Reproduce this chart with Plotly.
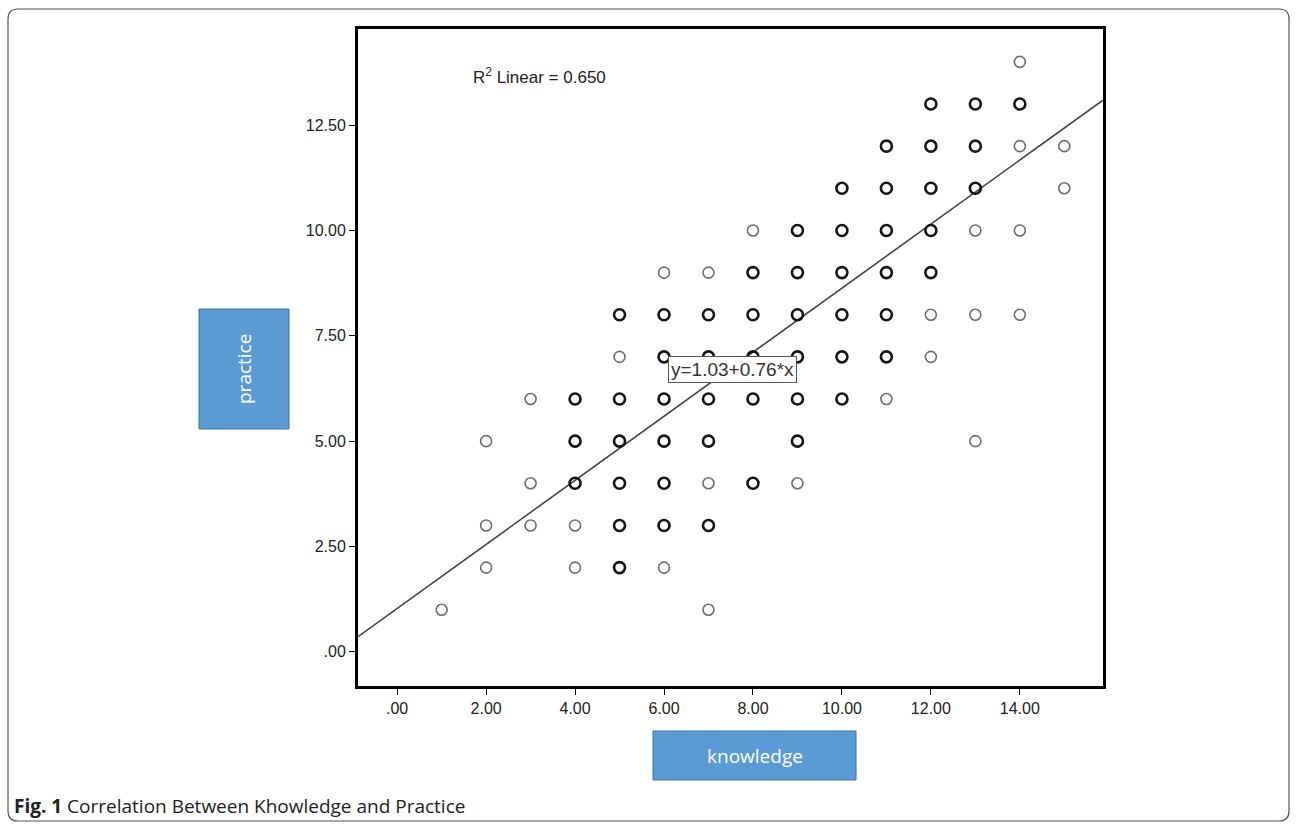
import plotly.graph_objects as go

# ---- data ----
knowledge = [1,
             2, 2, 2,
             3, 3, 3,
             4, 4, 4, 4, 4,
             5, 5, 5, 5, 5, 5, 5,
             6, 6, 6, 6, 6, 6, 6, 6,
             7, 7, 7, 7, 7, 7, 7, 7,
             8, 8, 8, 8, 8, 8,
             9, 9, 9, 9, 9, 9, 9,
             10, 10, 10, 10, 10, 10,
             11, 11, 11, 11, 11, 11, 11,
             12, 12, 12, 12, 12, 12, 12,
             13, 13, 13, 13, 13, 13,
             14, 14, 14, 14, 14,
             15, 15]
practice = [1,
            5, 3, 2,
            6, 4, 3,
            6, 5, 4, 3, 2,
            8, 7, 6, 5, 4, 3, 2,
            9, 8, 7, 6, 5, 4, 3, 2,
            9, 8, 7, 6, 5, 4, 3, 1,
            10, 9, 8, 7, 6, 4,
            10, 9, 8, 7, 6, 5, 4,
            11, 10, 9, 8, 7, 6,
            12, 11, 10, 9, 8, 7, 6,
            13, 12, 11, 10, 9, 8, 7,
            13, 12, 11, 10, 8, 5,
            14, 13, 12, 10, 8,
            12, 11]
# estimated number of respondents per plotted position (1 = single, 2 = overlapping)
frequency = [1,
             1, 1, 1,
             1, 1, 1,
             2, 2, 2, 1, 1,
             2, 1, 2, 2, 2, 2, 2,
             1, 2, 2, 2, 2, 2, 2, 1,
             1, 2, 2, 2, 2, 1, 2, 1,
             1, 2, 2, 2, 2, 2,
             2, 2, 2, 2, 2, 2, 1,
             2, 2, 2, 2, 2, 2,
             2, 2, 2, 2, 2, 2, 1,
             2, 2, 2, 2, 2, 1, 1,
             2, 2, 2, 1, 1, 1,
             1, 2, 1, 1, 1,
             1, 1]

fit_intercept = 1.03
fit_slope = 0.76
r2_text = "R<sup>2</sup> Linear = 0.650"
eq_text = "y=1.03+0.76*x"

x_ticks = [0, 2, 4, 6, 8, 10, 12, 14]
x_ticktext = [".00", "2.00", "4.00", "6.00", "8.00", "10.00", "12.00", "14.00"]
y_ticks = [0, 2.5, 5, 7.5, 10, 12.5]
y_ticktext = [".00", "2.50", "5.00", "7.50", "10.00", "12.50"]

x_label = "knowledge"
y_label = "practice"
caption_bold = "Fig. 1"
caption_text = " Correlation Between Khowledge and Practice"

# ---- figure ----
x_range = [-0.88, 15.87]
y_range = [-0.81, 14.78]

fig = go.Figure()

single_x = [x for x, f in zip(knowledge, frequency) if f == 1]
single_y = [y for y, f in zip(practice, frequency) if f == 1]
multi_x = [x for x, f in zip(knowledge, frequency) if f > 1]
multi_y = [y for y, f in zip(practice, frequency) if f > 1]

fig.add_trace(go.Scatter(
    x=[x_range[0], x_range[1]],
    y=[fit_intercept + fit_slope * x_range[0], fit_intercept + fit_slope * x_range[1]],
    mode="lines", line=dict(color="#444444", width=1.6), hoverinfo="skip"))

fig.add_trace(go.Scatter(
    x=single_x, y=single_y, mode="markers",
    marker=dict(symbol="circle-open", size=11, color="#6e6e6e", line=dict(width=1.6, color="#6e6e6e"))))
fig.add_trace(go.Scatter(
    x=multi_x, y=multi_y, mode="markers",
    marker=dict(symbol="circle-open", size=11, color="#151515", line=dict(width=2.6, color="#151515"))))

L, R, T, B = 358, 1103, 29, 686
W, H = 1296, 826
pw, ph = R - L, B - T


def px(xp):
    return (xp - L) / pw


def py(yp):
    return (B - yp) / ph


shapes = []
# outer rounded border
x0, x1, y0, y1 = px(8), px(1289), py(821), py(9)
rx, ry = 10 / pw, 10 / ph
path = (f"M {x0+rx},{y1} L {x1-rx},{y1} Q {x1},{y1} {x1},{y1-ry} "
        f"L {x1},{y0+ry} Q {x1},{y0} {x1-rx},{y0} L {x0+rx},{y0} "
        f"Q {x0},{y0} {x0},{y0+ry} L {x0},{y1-ry} Q {x0},{y1} {x0+rx},{y1} Z")
shapes.append(dict(type="path", xref="paper", yref="paper", path=path,
                   line=dict(color="#555555", width=1.2), layer="below"))
# blue label boxes
shapes.append(dict(type="rect", xref="paper", yref="paper",
                   x0=px(199), x1=px(289), y0=py(429), y1=py(309),
                   fillcolor="#5B9BD5", line=dict(color="#41719C", width=1)))
shapes.append(dict(type="rect", xref="paper", yref="paper",
                   x0=px(653), x1=px(856), y0=py(780), y1=py(731),
                   fillcolor="#5B9BD5", line=dict(color="#41719C", width=1)))

annotations = [
    dict(text=r2_text, x=1.66, y=13.66, xref="x", yref="y", xanchor="left", yanchor="middle",
         showarrow=False, font=dict(family="Liberation Sans, Arial", size=17, color="#222222")),
    dict(text=eq_text, x=7.55, y=6.71, xref="x", yref="y", xanchor="center", yanchor="middle",
         showarrow=False, font=dict(family="Liberation Sans, Arial", size=19, color="#333333"),
         bgcolor="white", bordercolor="#555555", borderwidth=1, borderpad=2),
    dict(text=y_label, x=px(244), y=py(369), xref="paper", yref="paper", textangle=-90,
         xanchor="center", yanchor="middle",
         showarrow=False, font=dict(family="Open Sans", size=19, color="white")),
    dict(text=x_label, x=px(754.5), y=py(756), xref="paper", yref="paper",
         xanchor="center", yanchor="middle",
         showarrow=False, font=dict(family="Open Sans", size=19, color="white")),
    dict(text=f"<b>{caption_bold}</b>{caption_text}", x=px(12), y=py(806), xref="paper", yref="paper",
         xanchor="left", yanchor="middle", showarrow=False,
         font=dict(family="Open Sans", size=19, color="#222222")),
]

axis_common = dict(showgrid=False, zeroline=False, showline=True, linecolor="black", linewidth=3,
                   mirror=True, ticks="outside", ticklen=6, tickwidth=1, tickcolor="black",
                   tickfont=dict(family="Liberation Sans, Arial", size=16, color="#222222"))

fig.update_layout(
    width=W, height=H,
    margin=dict(l=L, r=W - R, t=T, b=H - B),
    paper_bgcolor="white", plot_bgcolor="white",
    showlegend=False,
    xaxis=dict(range=x_range, tickvals=x_ticks, ticktext=x_ticktext, **axis_common),
    yaxis=dict(range=y_range, tickvals=y_ticks, ticktext=y_ticktext, **axis_common),
    shapes=shapes, annotations=annotations,
)

fig.write_html("out.html", config={"displayModeBar": False},
               post_script="document.body.style.margin='0px';document.body.style.overflow='hidden';")
